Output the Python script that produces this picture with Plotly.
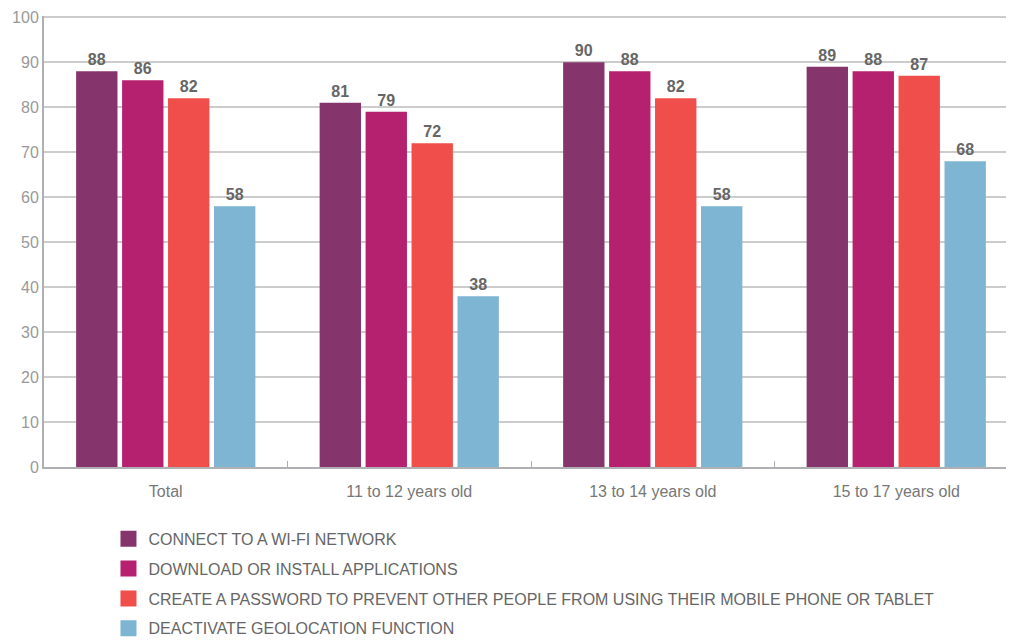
import plotly.graph_objects as go

categories = ["Total", "11 to 12 years old", "13 to 14 years old", "15 to 17 years old"]
series_names = [
    "CONNECT TO A WI-FI NETWORK",
    "DOWNLOAD OR INSTALL APPLICATIONS",
    "CREATE A PASSWORD TO PREVENT OTHER PEOPLE FROM USING THEIR MOBILE PHONE OR TABLET",
    "DEACTIVATE GEOLOCATION FUNCTION",
]
wifi = [88, 81, 90, 89]
download = [86, 79, 88, 88]
password = [82, 72, 82, 87]
geolocation = [58, 38, 58, 68]
colors = ["#85356b", "#b5216f", "#ef4e4a", "#7eb5d2"]

FONT = "Liberation Sans"

fig = go.Figure()
for i, (name, vals, col) in enumerate(zip(series_names, [wifi, download, password, geolocation], colors)):
    fig.add_trace(go.Bar(
        x=categories, y=vals, name=name,
        marker=dict(color=col, line=dict(width=0)),
        text=vals, textposition="outside", cliponaxis=False,
        textfont=dict(family=FONT, size=16, color="#666666", weight="bold"),
        showlegend=False,
    ))
    # legend proxy with bigger square swatch
    fig.add_trace(go.Scatter(
        x=[None], y=[None], mode="markers", name=name, legendgroup=f"g{i}",
        marker=dict(symbol="square", size=22, color=col),
    ))

# page body adds an 8px offset, margins compensate for it
fig.update_layout(
    width=1014, height=640,
    margin=dict(l=36, r=4, t=8, b=181, autoexpand=False),
    paper_bgcolor="white", plot_bgcolor="white",
    barmode="group", bargap=0.245, bargroupgap=0.1,
    font=dict(family=FONT, size=16, color="#777777"),
    showlegend=True,
    legend=dict(
        orientation="v", x=0.0662, xanchor="left",
        yref="container", y=0.197, yanchor="top",
        font=dict(family=FONT, size=16, color="#666666"),
        itemwidth=30, tracegroupgap=6,
    ),
)
fig.update_xaxes(
    showline=True, linecolor="#b0b0b4", linewidth=2,
    ticks="inside", tickson="boundaries", ticklen=6, tickcolor="#b0b0b4", tickwidth=1,
    tickfont=dict(family=FONT, size=16, color="#777777"),
    ticklabelstandoff=9,
    showgrid=False, automargin=False,
)
fig.update_yaxes(
    range=[0, 100.3], dtick=10,
    showline=True, linecolor="#b0b0b4", linewidth=2,
    showgrid=True, gridcolor="#cccccc", gridwidth=1.5,
    tickfont=dict(family=FONT, size=16, color="#999999"),
    ticklabeloverflow="allow",
    ticks="", zeroline=False, automargin=False,
)

fig.write_html("out.html")
